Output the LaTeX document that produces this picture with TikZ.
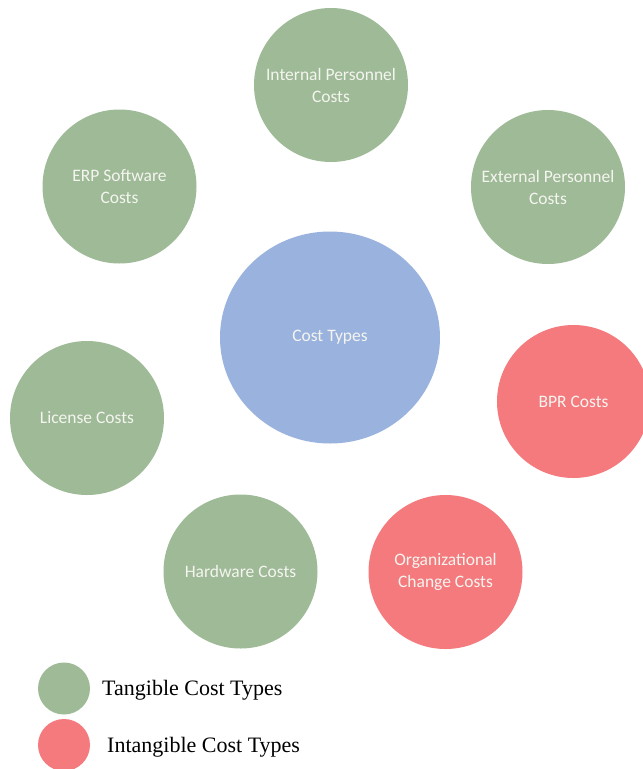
\documentclass[tikz,border=0pt]{standalone}
\usepackage{fontspec}
\setmainfont{Liberation Serif}
\newfontfamily\calib{Carlito}
\usetikzlibrary{shapes.geometric}
\definecolor{tgreen}{RGB}{158,186,151}
\definecolor{iblue}{RGB}{154,178,222}
\definecolor{ired}{RGB}{244,122,126}
\definecolor{ltext}{RGB}{245,245,240}
\tikzset{
  bubble/.style={circle, fill=#1, draw=none, minimum size=154pt, inner sep=0pt,
    text=ltext, align=center, font=\calib\fontsize{17.5}{22}\selectfont},
  legdot/.style={circle, fill=#1, draw=none, minimum size=52pt, inner sep=0pt},
  legtext/.style={anchor=base west, inner sep=0pt, font=\fontsize{22}{24}\selectfont, text=black}
}
\begin{document}
\begin{tikzpicture}[x=1pt,y=-1pt]
\useasboundingbox (0,0) rectangle (643,769);
\fill[white] (0,0) rectangle (643,769);
\node[bubble=tgreen] (ipc) at (331,85) {Internal Personnel\\Costs};
\node[bubble=tgreen] (erp) at (119.5,186.5) {ERP Software\\Costs};
\node[bubble=tgreen] (epc) at (548,187) {External Personnel\\Costs};
\node[ellipse, fill=iblue, draw=none, minimum width=220pt, minimum height=212pt, inner sep=0pt,
  text=ltext, font=\calib\fontsize{17.5}{22}\selectfont] (ct) at (330,337.5) {Cost Types};
\node[bubble=ired, minimum size=153pt] (bpr) at (573.5,401.5) {BPR Costs};
\node[bubble=tgreen] (lic) at (87,418) {License Costs};
\node[bubble=tgreen] (hw) at (240.5,571.5) {Hardware Costs};
\node[bubble=ired] (occ) at (445.5,572) {Organizational\\Change Costs};
\node[legdot=tgreen] (lg) at (64,688.5) {};
\node[legdot=ired] (lr) at (64,745) {};
\node[legtext] (lgt) at (102,695) {Tangible Cost Types};
\node[legtext] (lrt) at (107,752) {Intangible Cost Types};
\end{tikzpicture}
\end{document}
